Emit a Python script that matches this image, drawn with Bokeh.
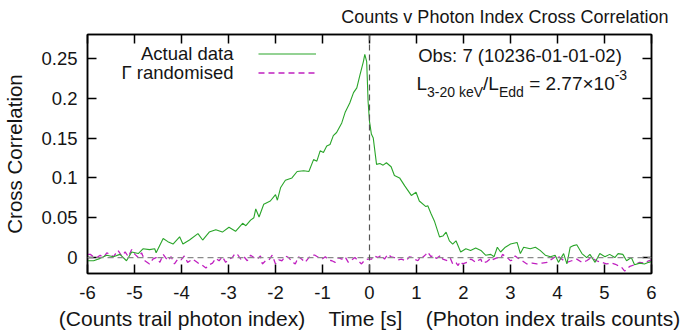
from bokeh.plotting import figure
from bokeh.models import (LinearAxis, FixedTicker, CustomJSTickFormatter, Span, Label,
                          Legend, LegendItem, Range1d)
from bokeh.embed import file_html
from bokeh.resources import INLINE

# ---------------- data ----------------
actual_t = [-6.00, -5.87, -5.73, -5.59, -5.45, -5.31, -5.17, -5.06, -4.92, -4.82, -4.68, -4.57,
            -4.54, -4.39, -4.29, -4.18, -4.04, -3.97, -3.83, -3.65, -3.55, -3.41, -3.27, -3.13,
            -2.99, -2.85, -2.70, -2.63, -2.53, -2.46, -2.42, -2.35, -2.25, -2.11, -2.00, -1.96,
            -1.89, -1.79, -1.65, -1.54, -1.40, -1.29, -1.19, -1.12, -1.05, -0.98, -0.91, -0.84,
            -0.77, -0.70, -0.59, -0.52, -0.42, -0.34, -0.27, -0.20, -0.13, -0.10, -0.06, -0.03,
            0.00, 0.04, 0.08, 0.15, 0.22, 0.29, 0.36, 0.46, 0.53, 0.64, 0.75, 0.89, 0.99, 1.06,
            1.20, 1.24, 1.31, 1.38, 1.49, 1.56, 1.63, 1.70, 1.77, 1.84, 1.94, 2.05, 2.15, 2.26,
            2.37, 2.47, 2.58, 2.65, 2.72, 2.79, 2.89, 3.00, 3.14, 3.21, 3.28, 3.42, 3.53, 3.63,
            3.74, 3.85, 3.95, 4.02, 4.13, 4.20, 4.27, 4.34, 4.41, 4.52, 4.62, 4.69, 4.80, 4.90,
            5.01, 5.11, 5.22, 5.29, 5.39, 5.47, 5.57, 5.64, 5.75, 5.85, 5.94, 6.00]
actual_cc = [-0.004, -0.004, -0.001, 0.003, 0.001, 0.004, -0.004, 0.007, 0.005, 0.011, 0.010, 0.011,
             0.006, 0.024, 0.020, 0.017, 0.026, 0.017, 0.022, 0.030, 0.022, 0.032, 0.035, 0.032,
             0.038, 0.033, 0.043, 0.040, 0.047, 0.050, 0.061, 0.051, 0.067, 0.071, 0.079, 0.072,
             0.088, 0.097, 0.100, 0.108, 0.109, 0.108, 0.123, 0.121, 0.134, 0.132, 0.140, 0.142,
             0.153, 0.157, 0.169, 0.182, 0.194, 0.207, 0.213, 0.230, 0.246, 0.255, 0.246, 0.196,
             0.171, 0.155, 0.150, 0.117, 0.118, 0.116, 0.119, 0.114, 0.103, 0.100, 0.090, 0.078,
             0.082, 0.071, 0.064, 0.065, 0.055, 0.046, 0.026, 0.027, 0.032, 0.021, 0.017, 0.021,
             0.007, 0.011, 0.009, 0.012, 0.009, 0.003, 0.004, 0.001, 0.013, 0.007, 0.013, 0.017,
             0.019, 0.005, 0.013, 0.011, 0.013, 0.009, 0.003, 0.001, 0.003, -0.006, 0.005, -0.008,
             0.013, 0.015, 0.016, 0.005, 0.000, 0.004, -0.006, 0.005, 0.001, 0.004, 0.000, 0.005,
             0.004, -0.004, 0.000, -0.009, -0.007, -0.008, -0.006, -0.005]

rand_t = [-6.00, -5.94, -5.87, -5.80, -5.73, -5.66, -5.59, -5.52, -5.45, -5.35, -5.27, -5.20,
          -5.13, -5.06, -4.99, -4.92, -4.85, -4.78, -4.68, -4.61, -4.54, -4.46, -4.39, -4.29,
          -4.22, -4.15, -4.08, -4.01, -3.94, -3.87, -3.76, -3.69, -3.62, -3.55, -3.48, -3.41,
          -3.34, -3.27, -3.20, -3.13, -3.06, -2.99, -2.92, -2.86, -2.81, -2.74, -2.67, -2.60,
          -2.53, -2.46, -2.39, -2.32, -2.28, -2.21, -2.14, -2.07, -2.00, -1.93, -1.86, -1.79,
          -1.72, -1.65, -1.58, -1.51, -1.44, -1.37, -1.29, -1.22, -1.16, -1.08, -1.01, -0.94,
          -0.87, -0.80, -0.73, -0.66, -0.59, -0.52, -0.45, -0.38, -0.31, -0.24, -0.17, -0.10,
          -0.03, 0.04, 0.11, 0.18, 0.25, 0.32, 0.39, 0.46, 0.53, 0.60, 0.68, 0.78, 0.85, 0.92,
          0.99, 1.03, 1.10, 1.13, 1.20, 1.24, 1.31, 1.35, 1.42, 1.45, 1.52, 1.56, 1.66, 1.72,
          1.77, 1.84, 1.88, 1.94, 1.98, 2.08, 2.15, 2.19, 2.26, 2.30, 2.37, 2.40, 2.50, 2.58,
          2.61, 2.72, 2.79, 2.83, 2.90, 2.93, 3.00, 3.04, 3.10, 3.14, 3.20, 3.25, 3.35, 3.46,
          3.56, 3.67, 3.78, 3.85, 3.88, 3.95, 3.99, 4.09, 4.20, 4.30, 4.41, 4.52, 4.62, 4.72,
          4.83, 4.94, 5.04, 5.15, 5.25, 5.36, 5.43, 5.54, 5.64, 5.75, 5.85, 5.94, 6.00]
rand_cc = [0.004, 0.004, 0.001, 0.000, 0.003, 0.000, 0.006, 0.004, 0.001, 0.009, 0.002, 0.007,
           0.001, 0.010, 0.004, 0.000, 0.006, -0.004, -0.008, -0.002, 0.000, -0.006, 0.004, -0.004,
           0.001, -0.008, -0.002, -0.003, 0.002, -0.006, -0.002, -0.005, -0.008, -0.010, -0.013, -0.009,
           -0.007, -0.001, -0.004, 0.001, -0.006, -0.002, 0.000, 0.005, 0.004, -0.002, 0.001, -0.004,
           0.003, 0.000, -0.002, 0.002, -0.008, -0.004, -0.003, 0.003, -0.008, -0.003, -0.004, 0.002,
           0.000, -0.005, -0.008, 0.001, -0.002, -0.006, 0.000, 0.003, 0.003, 0.000, -0.002, 0.001,
           -0.003, -0.004, -0.006, 0.000, -0.002, 0.001, -0.006, -0.003, 0.000, -0.004, -0.008, -0.003,
           -0.002, -0.002, 0.002, 0.000, 0.003, -0.002, 0.004, 0.001, 0.000, -0.003, -0.002, -0.004,
           0.001, 0.000, -0.003, -0.004, 0.002, 0.000, 0.004, 0.007, 0.001, 0.003, -0.001, 0.000,
           0.003, -0.002, -0.004, -0.001, -0.008, -0.006, -0.010, -0.005, -0.008, -0.006, -0.002, -0.003,
           -0.006, -0.004, -0.002, -0.007, -0.005, -0.001, -0.003, 0.000, -0.002, 0.004, 0.001, 0.000,
           -0.004, -0.003, 0.002, 0.000, -0.002, -0.004, -0.008, -0.007, -0.008, -0.007, -0.006, -0.003,
           -0.002, 0.001, 0.003, -0.002, -0.006, -0.004, -0.002, -0.006, -0.004, 0.000, -0.004, -0.006,
           -0.008, -0.007, -0.009, -0.012, -0.017, -0.011, -0.009, -0.006, -0.007, -0.004, -0.003]

x_ticks = [-6, -5, -4, -3, -2, -1, 0, 1, 2, 3, 4, 5, 6]
y_ticks = [0, 0.05, 0.1, 0.15, 0.2, 0.25]

title_text = "Counts v Photon Index Cross Correlation"
ylabel_text = "Cross Correlation"
xlabel_parts = ["(Counts trail photon index)", "Time [s]", "(Photon index trails counts)"]
legend_labels = ["Actual data", "\u0393 randomised"]
obs_text = "Obs: 7 (10236-01-01-02)"

FONT = "Liberation Sans"
TXT = "#151515"
GREEN = "#2aa52a"
MAGENTA = "#c020c0"

# ---------------- figure ----------------
p = figure(width=681, height=333, output_backend="svg", toolbar_location=None,
           x_range=Range1d(-6, 6), y_range=Range1d(-0.02, 0.28),
           min_border_left=84, min_border_right=30, min_border_top=32, min_border_bottom=60,
           background_fill_color="white", border_fill_color="white")
p.xgrid.visible = False
p.ygrid.visible = False
p.outline_line_color = "black"
p.outline_line_width = 1.5

p.title.text = title_text
p.title.text_font = FONT
p.title.text_font_size = "18px"
p.title.text_font_style = "normal"
p.title.text_color = TXT
p.title.text_line_height = 0.6
p.title.align = "right"
p.title.vertical_align = "top"
p.title.offset = -17
p.title.standoff = 12

fmt = CustomJSTickFormatter(code="return String(tick)")

def style_axis(ax, ticks, show_labels, standoff):
    ax.ticker = FixedTicker(ticks=ticks, minor_ticks=[])
    ax.formatter = fmt
    ax.axis_line_color = "black"
    ax.axis_line_width = 1.5
    ax.major_tick_in = 9
    ax.major_tick_out = 0
    ax.major_tick_line_width = 1.5
    ax.major_tick_line_color = "black"
    ax.minor_tick_line_color = None
    ax.major_label_standoff = standoff
    if show_labels:
        ax.major_label_text_font = FONT
        ax.major_label_text_font_size = "18.5px"
        ax.major_label_text_color = TXT
    else:
        ax.major_label_text_font_size = "0px"
        ax.major_label_text_color = None

bottom_ax = p.xaxis[0]
left_ax = p.yaxis[0]
style_axis(bottom_ax, x_ticks, True, 12)
style_axis(left_ax, y_ticks, True, 10)
top_ax = LinearAxis()
style_axis(top_ax, x_ticks, False, 0)
right_ax = LinearAxis()
style_axis(right_ax, y_ticks, False, 0)
p.add_layout(top_ax, "above")
p.add_layout(right_ax, "right")

gap = "\u00a0" * 4
for ax, text, st, sz in ((bottom_ax, gap.join(xlabel_parts), 5, "21px"),
                         (left_ax, ylabel_text, 12, "20.5px")):
    ax.axis_label = text
    ax.axis_label_text_font = FONT
    ax.axis_label_text_font_size = sz
    ax.axis_label_text_font_style = "normal"
    ax.axis_label_text_color = TXT
    ax.axis_label_standoff = st

# zero reference lines
p.add_layout(Span(location=0, dimension="width", line_color="#8a8a8a", line_width=1.2,
                  line_dash="6 4"))
p.add_layout(Span(location=0, dimension="height", line_color="#555555", line_width=1.2,
                  line_dash="6 4"))

r_rand = p.line(rand_t, rand_cc, line_color=MAGENTA, line_width=1.3, line_dash="6 4")
r_act = p.line(actual_t, actual_cc, line_color=GREEN, line_width=1.1)

# legend (gnuplot style: text left of the sample line)
leg = Legend(items=[LegendItem(label="\u00a0", renderers=[r_act]),
                    LegendItem(label="\u00a0", renderers=[r_rand])],
             location=(171, 191.5), orientation="vertical",
             glyph_width=58, glyph_height=19, label_height=19, label_width=0,
             label_standoff=0, label_text_font_size="1px", spacing=0, padding=0, margin=0,
             border_line_color=None, background_fill_alpha=0)
p.add_layout(leg, "center")

def lab(text, x, y, size, align="left", baseline="middle"):
    p.add_layout(Label(x=x, y=y, x_units="screen", y_units="screen", text=text,
                       text_font=FONT, text_font_size=size, text_color=TXT,
                       text_align=align, text_baseline=baseline))

lab(legend_labels[0], 146, 220, "18.5px", align="right")
lab(legend_labels[1], 146, 201, "18.5px", align="right")

# annotation
lab(obs_text, 432.5, 218, "18.5px", align="center")

HELV = {"L": 556, " ": 278, "3": 556, "-": 333, "2": 556, "0": 556, "k": 500, "e": 556,
        "V": 667, "/": 278, "E": 667, "d": 556, "=": 584, ".": 278, "7": 556, "\u00d7": 584,
        "1": 556}

def tw(s, size):
    return sum(HELV[c] for c in s) / 1000.0 * size

main_sz, sub_sz = 19.0, 14.0
pieces = [("L", main_sz, 0.0), ("3-20 keV", sub_sz, -8.5), ("/L", main_sz, 0.0),
          ("Edd", sub_sz, -8.5), (" = 2.77\u00d710", main_sz, 0.0), ("-3", sub_sz, 9.0)]
xcur = 329.0
base_y = 190.0
for txt, sz, dy in pieces:
    lead = len(txt) - len(txt.lstrip(" "))
    shown = txt.strip(" ")
    lab(shown, xcur + tw(" " * lead, sz), base_y + dy, "%gpx" % sz, baseline="alphabetic")
    xcur += tw(txt, sz)

open("out.html", "w").write(file_html(p, INLINE))
